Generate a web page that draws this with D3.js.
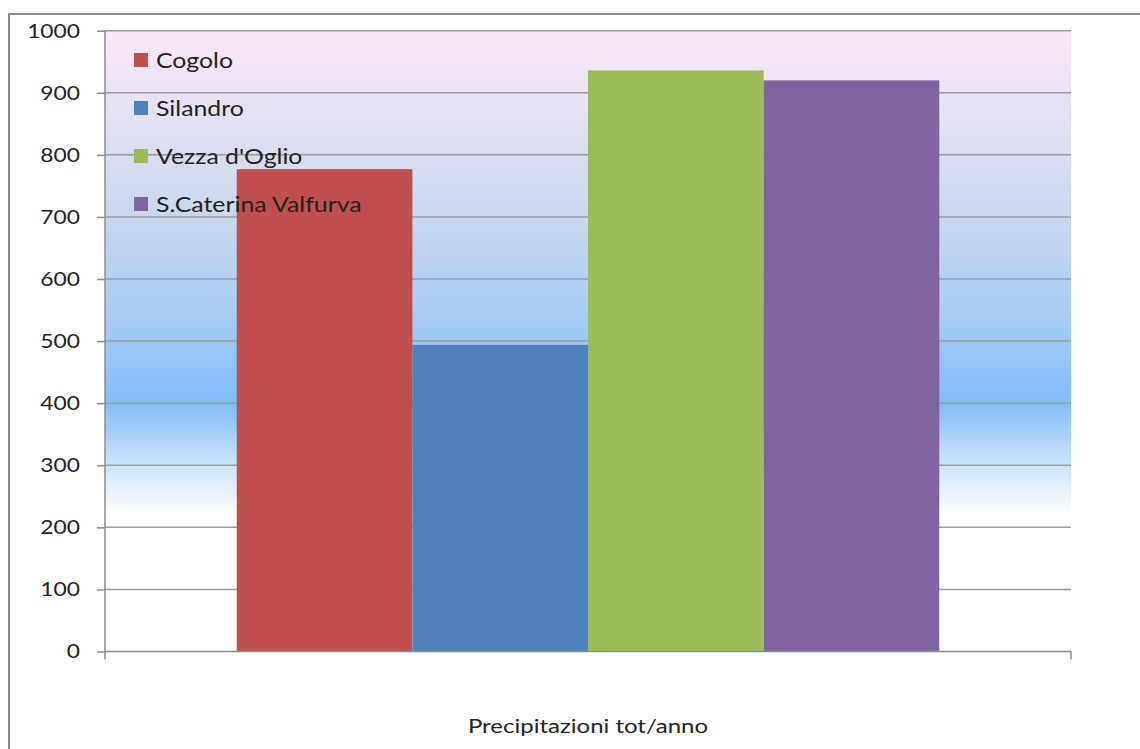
<!DOCTYPE html>
<html>
<head>
<meta charset="utf-8">
<script src="https://cdn.jsdelivr.net/npm/d3@7"></script>
<style>
  html, body { margin: 0; padding: 0; background: #ffffff; }
  svg { display: block; }
  text { font-family: Lato, "Open Sans", sans-serif; fill: #222222; }
</style>
</head>
<body>
<svg id="chart" width="1140" height="749"></svg>
<script>
// Annual precipitation totals (mm) for four alpine stations
const category = "Precipitazioni tot/anno";
const stations = ["Cogolo", "Silandro", "Vezza d'Oglio", "S.Caterina Valfurva"];
const totals = [777, 494, 936, 920];
const colors = ["#c0504d", "#4f81bd", "#9bbb59", "#8064a2"];
const yTicks = [0, 100, 200, 300, 400, 500, 600, 700, 800, 900, 1000];

const W = 1140, H = 749;
const plot = { left: 105, right: 1071, top: 30.7, bottom: 651.5 };
const textStretch = 1.2; // horizontal stretch applied to all labels

const svg = d3.select("#chart");

// outer chart frame (runs off the right and bottom edges)
svg.append("rect")
  .attr("x", 9).attr("y", 14)
  .attr("width", W + 20).attr("height", H + 20)
  .attr("fill", "#ffffff")
  .attr("stroke", "#8a8a8a").attr("stroke-width", 2);

const y = d3.scaleLinear().domain([0, 1000]).range([plot.bottom, plot.top]);
const x0 = d3.scaleBand().domain([category]).range([plot.left, plot.right]).padding(0);
const x1 = d3.scaleBand().domain(stations).range([0, x0.bandwidth()])
  .paddingInner(0).paddingOuter(0.75);

// plot-area gradient: pink at the top through lavender and blue to white
const defs = svg.append("defs");
const grad = defs.append("linearGradient")
  .attr("id", "bg").attr("gradientUnits", "userSpaceOnUse")
  .attr("x1", 0).attr("x2", 0)
  .attr("y1", plot.top).attr("y2", y(220));
[
  [0, "#fce8f7"], [0.15, "#e7e2f3"], [0.4, "#c7d7ee"], [0.6, "#a5ccf5"],
  [0.77, "#80bdfb"], [0.88, "#c4dffc"], [1, "#ffffff"]
].forEach(([o, c]) => grad.append("stop").attr("offset", o).attr("stop-color", c));

svg.append("rect")
  .attr("x", plot.left).attr("y", plot.top)
  .attr("width", plot.right - plot.left).attr("height", plot.bottom - plot.top)
  .attr("fill", "url(#bg)");

// horizontal gridlines
svg.append("g").selectAll("line").data(yTicks.filter(d => d > 0)).join("line")
  .attr("x1", plot.left).attr("x2", plot.right)
  .attr("y1", d => y(d)).attr("y2", d => y(d))
  .attr("stroke", "#9c9c9c").attr("stroke-width", 1.5);

// bars
svg.append("g").selectAll("rect").data(stations).join("rect")
  .attr("x", d => x0(category) + x1(d))
  .attr("y", (d, i) => y(totals[i]))
  .attr("width", x1.bandwidth())
  .attr("height", (d, i) => y(0) - y(totals[i]))
  .attr("fill", (d, i) => colors[i]);

// value axis
const yAxis = svg.append("g").attr("transform", `translate(${plot.left},0)`)
  .call(d3.axisLeft(y).tickValues(yTicks).tickFormat(d3.format("d"))
    .tickSize(8).tickSizeOuter(0));
yAxis.select(".domain").remove();
yAxis.selectAll(".tick line").attr("stroke", "#8c8c8c").attr("stroke-width", 1.5);
yAxis.selectAll(".tick text")
  .attr("font-size", 19).attr("font-family", "Lato, sans-serif").attr("fill", "#222222")
  .attr("dy", "0.34em")
  .attr("transform", `scale(${textStretch},1)`)
  .attr("x", -25 / textStretch);

// axis lines
svg.append("line")
  .attr("x1", plot.left).attr("x2", plot.left)
  .attr("y1", plot.top).attr("y2", plot.bottom + 8)
  .attr("stroke", "#8c8c8c").attr("stroke-width", 1.5);
svg.append("line")
  .attr("x1", plot.left).attr("x2", plot.right)
  .attr("y1", plot.bottom).attr("y2", plot.bottom)
  .attr("stroke", "#8c8c8c").attr("stroke-width", 1.5);
svg.append("line")
  .attr("x1", plot.right).attr("x2", plot.right)
  .attr("y1", plot.bottom).attr("y2", plot.bottom + 8)
  .attr("stroke", "#8c8c8c").attr("stroke-width", 1.5);

// category label
svg.append("text")
  .attr("transform", `translate(${x0(category) + x0.bandwidth() / 2},733) scale(${textStretch},1)`)
  .attr("text-anchor", "middle")
  .attr("font-size", 20)
  .text(category);

// legend inside the plot area
const legend = svg.append("g").selectAll("g").data(stations).join("g")
  .attr("transform", (d, i) => `translate(134,${60 + i * 48})`);
legend.append("rect")
  .attr("x", 0).attr("y", -7).attr("width", 14).attr("height", 14)
  .attr("fill", (d, i) => colors[i]);
legend.append("text")
  .attr("transform", `translate(22,0) scale(${textStretch * 0.94},1)`)
  .attr("dy", "0.36em")
  .attr("font-size", 22)
  .text(d => d);
</script>
</body>
</html>
